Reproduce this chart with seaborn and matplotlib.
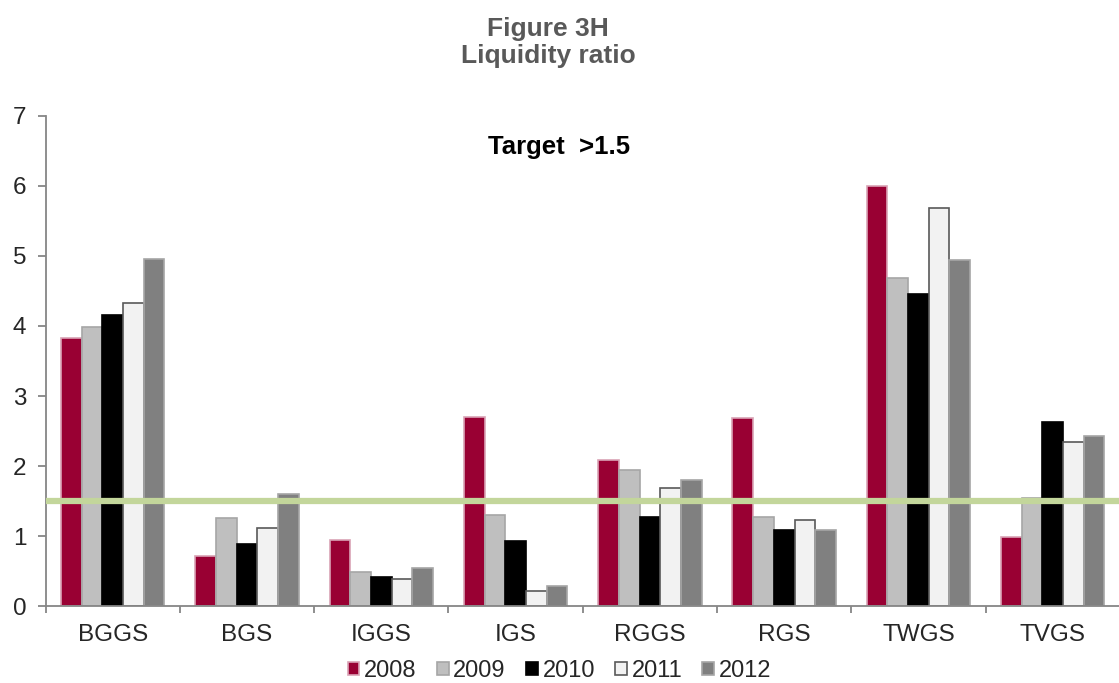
import matplotlib
matplotlib.use("Agg")
import matplotlib.pyplot as plt
import seaborn as sns
import pandas as pd

# Liquidity ratio by entity and year
entities = ["BGGS", "BGS", "IGGS", "IGS", "RGGS", "RGS", "TWGS", "TVGS"]
years = ["2008", "2009", "2010", "2011", "2012"]
ratio_2008 = [3.83, 0.71, 0.95, 2.70, 2.09, 2.68, 6.00, 0.98]
ratio_2009 = [3.98, 1.26, 0.48, 1.30, 1.95, 1.27, 4.69, 1.54]
ratio_2010 = [4.16, 0.88, 0.41, 0.93, 1.27, 1.09, 4.45, 2.63]
ratio_2011 = [4.33, 1.12, 0.39, 0.21, 1.69, 1.23, 5.69, 2.35]
ratio_2012 = [4.96, 1.60, 0.54, 0.28, 1.80, 1.09, 4.94, 2.43]
target = 1.5

series = [ratio_2008, ratio_2009, ratio_2010, ratio_2011, ratio_2012]
df = pd.DataFrame(
    [(e, y, v) for y, vals in zip(years, series) for e, v in zip(entities, vals)],
    columns=["entity", "year", "ratio"],
)

fills = ["#990033", "#bfbfbf", "#000000", "#f2f2f2", "#808080"]
edges = ["#d9a3b5", "#a6a6a6", "#000000", "#595959", "#a6a6a6"]

sns.set_style("white")
plt.rcParams["font.family"] = ["Liberation Sans", "DejaVu Sans"]

fig = plt.figure(figsize=(11.19, 6.83), dpi=100)
ax = fig.add_axes([0.0408, 0.1127, 0.96, 0.7175])

sns.barplot(
    data=df, x="entity", y="ratio", hue="year", order=entities, hue_order=years,
    palette=fills, width=0.77, gap=0, saturation=1, ax=ax, legend=True,
)
for cont, ec in zip(ax.containers, edges):
    for bar in cont:
        bar.set_edgecolor(ec)
        bar.set_linewidth(1.2)

ax.axhline(target, color="#c3d69b", lw=4.5, zorder=5)

ax.set_xlim(-0.5, len(entities) - 0.5)
ax.set_ylim(0, 7)
ax.set_yticks(range(0, 8))
ax.set_xlabel("")
ax.set_ylabel("")

for side in ["top", "right"]:
    ax.spines[side].set_visible(False)
for side in ["left", "bottom"]:
    ax.spines[side].set_color("#868686")
    ax.spines[side].set_linewidth(1.3)

ax.tick_params(axis="y", which="major", length=6, width=1.3, color="#868686",
               labelsize=17.5, pad=8, left=True)
ax.tick_params(axis="x", which="major", length=0, labelsize=17.5, pad=13)
ax.set_xticks([i - 0.5 for i in range(len(entities) + 1)], minor=True)
ax.tick_params(axis="x", which="minor", length=5, width=1.3, color="#868686",
               bottom=True, direction="out")

ax.legend_.remove()
handles, labels = ax.get_legend_handles_labels()
for h, ec in zip(handles, edges):
    h.set_edgecolor(ec)
    h.set_linewidth(1.2)
fig.legend(handles, labels, loc="center", bbox_to_anchor=(0.5, 1 - 671 / 683),
           ncol=5, frameon=False, fontsize=17, handlelength=0.5, handleheight=0.5,
           handletextpad=0.2, columnspacing=0.85, borderaxespad=0)

fig.text(548 / 1119, 1 - 29 / 683, "Figure 3H", ha="center", va="center",
         fontsize=19, fontweight="bold", color="#595959")
fig.text(548 / 1119, 1 - 56 / 683, "Liquidity ratio", ha="center", va="center",
         fontsize=19, fontweight="bold", color="#595959")
fig.text(559 / 1119, 1 - 147 / 683, "Target  >1.5", ha="center", va="center",
         fontsize=18.5, fontweight="bold", color="black")

fig.savefig("out.png", dpi=100)
